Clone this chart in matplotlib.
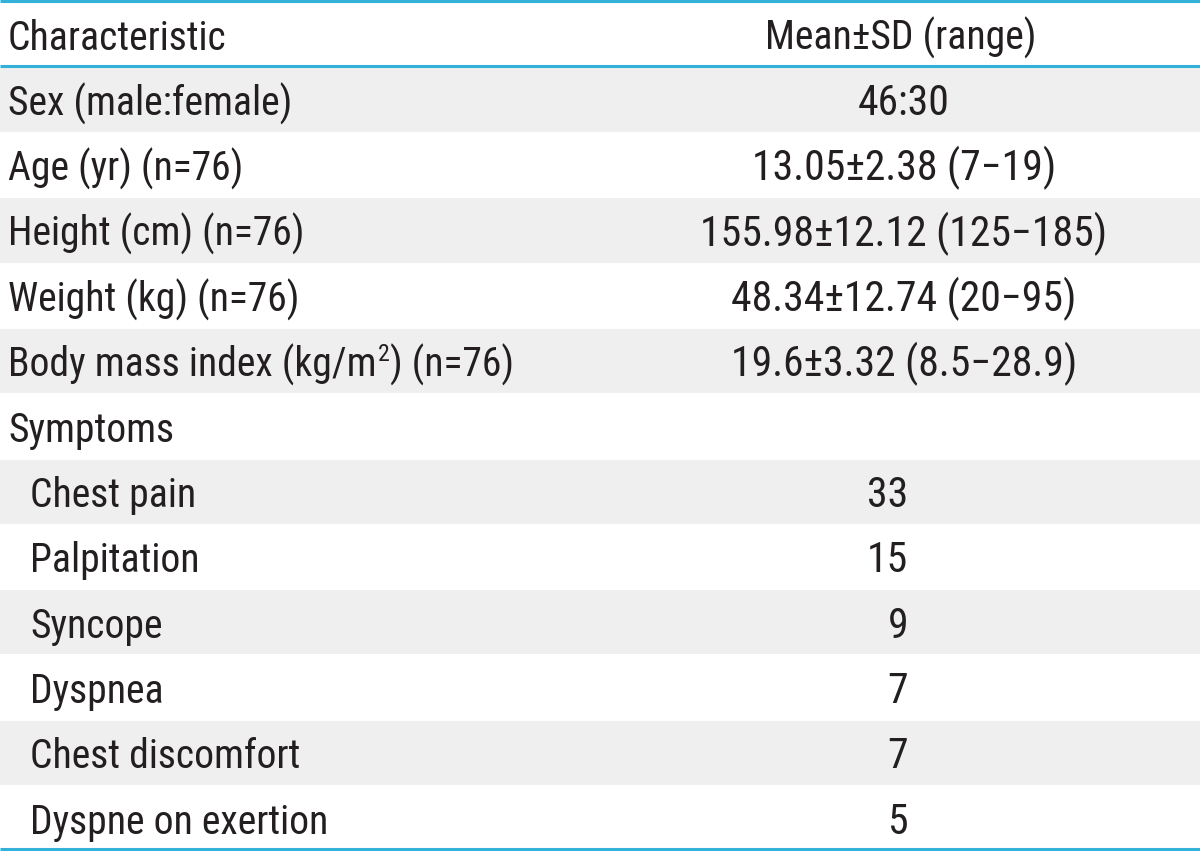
import os
import matplotlib
matplotlib.use("Agg")
import matplotlib.pyplot as plt
from matplotlib.patches import Rectangle
from matplotlib import font_manager as fm

header = ["Characteristic", "Mean\u00b1SD (range)"]
labels = ["Sex (male:female)", "Age (yr) (n=76)", "Height (cm) (n=76)",
          "Weight (kg) (n=76)", "Body mass index (kg/m^2) (n=76)", "Symptoms",
          "Chest pain", "Palpitation", "Syncope", "Dyspnea",
          "Chest discomfort", "Dyspne on exertion"]
values = ["46:30", "13.05\u00b12.38 (7\u221219)", "155.98\u00b112.12 (125\u2212185)",
          "48.34\u00b112.74 (20\u221295)", "19.6\u00b13.32 (8.5\u221228.9)", "",
          "33", "15", "9", "7", "7", "5"]
indented = [False, False, False, False, False, False, True, True, True, True, True, True]
is_count = [False, False, False, False, False, False, True, True, True, True, True, True]

# ---- font selection: prefer a condensed sans-serif if one is installed ----
def pick_font():
    prefs = ["liberationsansnarrow-regular", "robotocondensed-regular", "dejavusanscondensed.ttf",
             "opensans_condensed-regular", "opensanscondensed-regular", "notosans-condensed.ttf",
             "notosans-condensedregular"]
    files = [f.fname for f in fm.fontManager.ttflist]
    low = {os.path.basename(p).lower().replace(" ", ""): p for p in files}
    for pref in prefs:
        for b, p in low.items():
            if b.startswith(pref) or b == pref:
                return fm.FontProperties(fname=p), True
    for f in fm.fontManager.ttflist:
        b = os.path.basename(f.fname).lower()
        if ("condensed" in b or "narrow" in b) and "bold" not in b and "italic" not in b \
                and "light" not in b and "semi" not in b and "extra" not in b and "oblique" not in b \
                and "thin" not in b and "black" not in b and "medium" not in b:
            return fm.FontProperties(fname=f.fname), True
    return fm.FontProperties(family="Roboto"), False

fp, condensed = pick_font()
fs = 28.5 if condensed else 25
fs_val = 30 if condensed else 25

W, H = 1200, 851
fig = plt.figure(figsize=(W / 100, H / 100), dpi=100)
ax = fig.add_axes([0, 0, 1, 1])
ax.set_xlim(0, W)
ax.set_ylim(H, 0)
ax.axis('off')
renderer = fig.canvas.get_renderer()

top = 1.5
row_h = 65.3
txt_color = '#231f20'
gray = '#efefef'
blue = '#33b1d9'


def put(x, y, s, ha='left', size=fs):
    p = fp.copy()
    p.set_size(size)
    return ax.text(x, y, s, fontproperties=p, color=txt_color, va='baseline', ha=ha)


def put_label(x, y, s):
    if '^' not in s:
        put(x, y, s)
        return
    i = s.index('^')
    pre, sup, post = s[:i], s[i + 1], s[i + 2:]
    t1 = put(x, y, pre)
    bb = t1.get_window_extent(renderer)
    x1 = bb.x1
    t2 = put(x1 + 1, y - fs * 0.55, sup, size=fs * 0.6)
    bb2 = t2.get_window_extent(renderer)
    put(bb2.x1 + 1, y, post)


base_off = 48.5
put(8, top + base_off, header[0])
put(901, top + base_off, header[1], ha='center')

for i, (lab, val) in enumerate(zip(labels, values)):
    y0 = top + row_h * (i + 1)
    if i % 2 == 0:
        ax.add_patch(Rectangle((0, y0 + 1), W, row_h - 1, facecolor=gray, edgecolor='none', zorder=0))
    yb = y0 + base_off
    x = 30 if indented[i] else 8
    put_label(x, yb, lab)
    if val:
        if is_count[i]:
            put(908, yb, val, ha='right', size=fs_val)
        else:
            put(904, yb, val, ha='center', size=fs_val)

for yl in [1.2, top + row_h - 0.5, top + row_h * 13 - 1]:
    ax.plot([0, W], [yl, yl], color=blue, lw=2.2, solid_capstyle='butt', zorder=3)

fig.savefig("out.png", dpi=100, facecolor='white')
